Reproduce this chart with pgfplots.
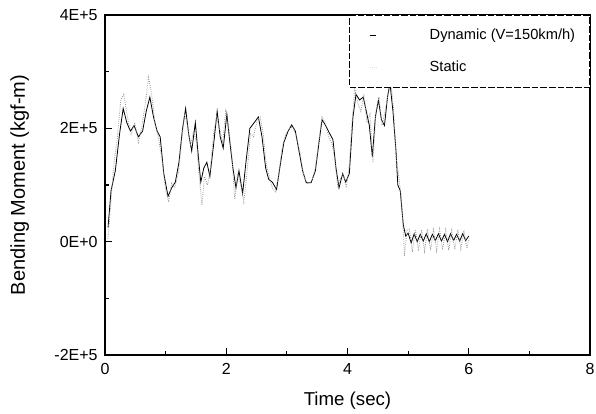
\documentclass[border=0pt]{standalone}
\usepackage{pgfplots}
\pgfplotsset{compat=1.18}
\usepackage{fontspec}
\setmainfont{Liberation Sans}
\definecolor{statgray}{RGB}{150,150,150}

\begin{document}
\begin{tikzpicture}
\begin{axis}[
  name=ax, scale only axis,
  width=363.75pt, height=255pt,
  xmin=0, xmax=8, ymin=-2, ymax=4,
  xtick={0,2,4,6,8}, xticklabels={0,2,4,6,8},
  minor xtick={1,3,5,7},
  ytick={-2,0,2,4}, yticklabels={-2E+5,0E+0,2E+5,4E+5},
  minor ytick={-1,1,3},
  tick align=inside, tick pos=left,
  major tick length=5pt, minor tick length=3pt,
  every tick/.style={black, line width=0.8pt},
  axis line style={line width=0.9pt},
  ticklabel style={font=\fontsize{12}{14}\selectfont},
  xticklabel style={yshift=-3pt},
  yticklabel style={xshift=-2pt},
  every axis x label/.style={at={(axis description cs:0.5,-0.135)}, anchor=center,
    font=\fontsize{14}{16}\selectfont},
  every axis y label/.style={at={(axis description cs:-0.176,0.5)}, anchor=center,
    rotate=90, font=\fontsize{15}{17}\selectfont},
  xlabel={Time (sec)},
  ylabel={Bending Moment (kgf-m)},
  legend style={at={(rel axis cs:1,1)}, anchor=north east,
    draw=black, dash pattern=on 5pt off 1.5pt, line width=0.5pt,
    fill=white, inner xsep=6pt, inner ysep=8pt, row sep=11pt,
    font=\fontsize{11}{13}\selectfont},
  legend cell align=left,
]
% Dynamic, values in units of 1E+5 kgf-m
\addplot[black, line width=0.6pt, solid,
  legend image code/.code={\path[draw=none] (0pt,0pt) -- (52pt,0pt);
    \draw[black, solid, line width=0.6pt] (9pt,0pt) -- (14pt,0pt);}]
  coordinates {
  (0.05,0.25) (0.10,0.90) (0.17,1.25) (0.24,1.90) (0.30,2.35) (0.36,2.10)
  (0.42,1.95) (0.48,2.05) (0.55,1.85) (0.62,1.95) (0.68,2.30) (0.74,2.55)
  (0.80,2.20) (0.86,1.95) (0.91,1.85) (0.97,1.20) (1.04,0.80) (1.10,0.95)
  (1.16,1.05) (1.22,1.40) (1.28,2.00) (1.33,2.35) (1.38,1.90) (1.43,1.60)
  (1.49,2.10) (1.54,1.50) (1.58,1.05) (1.63,1.30) (1.68,1.40) (1.73,1.15)
  (1.79,1.70) (1.85,2.30) (1.90,1.85) (1.95,1.65) (2.01,2.25) (2.06,1.75)
  (2.11,1.30) (2.16,0.95) (2.21,1.25) (2.27,0.85) (2.33,1.45) (2.39,2.00)
  (2.46,2.10) (2.53,2.20) (2.59,1.85) (2.65,1.30) (2.70,1.10) (2.76,1.05)
  (2.83,0.92) (2.89,1.35) (2.95,1.75) (3.02,1.95) (3.08,2.06) (3.14,1.95)
  (3.20,1.60) (3.26,1.25) (3.32,1.04) (3.40,1.04) (3.47,1.25) (3.53,1.75)
  (3.58,2.15) (3.64,2.05) (3.70,1.92) (3.76,1.80) (3.81,1.30) (3.86,0.95)
  (3.92,1.20) (3.97,1.05) (4.03,1.20) (4.09,2.20) (4.14,2.60) (4.20,2.50)
  (4.26,2.55) (4.31,2.30) (4.36,2.05) (4.41,1.50) (4.46,2.20) (4.51,2.50)
  (4.56,2.15) (4.61,2.05) (4.66,2.55) (4.70,2.80) (4.75,2.30) (4.80,1.60)
  (4.83,1.00) (4.87,0.90) (4.92,0.30) (4.96,0.10) (5.00,0.15) (5.05,-0.02)
  (5.10,0.14) (5.15,0.00) (5.20,0.13) (5.25,0.01) (5.30,0.14) (5.35,0.00)
  (5.40,0.13) (5.45,0.02) (5.50,0.14) (5.55,0.01) (5.60,0.13) (5.65,0.00)
  (5.70,0.14) (5.75,0.02) (5.80,0.13) (5.85,0.01) (5.90,0.14) (5.95,0.02)
  (6.00,0.10)
};
\addlegendentry{\makebox[112pt][l]{Dynamic (V=150km/h)}}
% Static
\addplot[statgray, densely dotted, line width=0.6pt,
  legend image code/.code={\path[draw=none] (0pt,0pt) -- (52pt,0pt);
    \draw[statgray!30, densely dotted, line width=0.5pt] (9pt,0pt) -- (14pt,0pt);}]
  coordinates {
  (0.05,0.05) (0.09,0.60) (0.14,1.30) (0.20,1.80) (0.26,2.50) (0.31,2.60)
  (0.37,2.20) (0.43,1.90) (0.49,2.10) (0.55,1.75) (0.61,2.05) (0.66,2.40)
  (0.72,2.90) (0.77,2.60) (0.83,2.05) (0.88,1.85) (0.94,1.45) (1.00,0.90)
  (1.05,0.70) (1.10,1.05) (1.15,0.95) (1.21,1.20) (1.26,1.75) (1.31,2.25)
  (1.36,2.05) (1.41,1.70) (1.46,1.95) (1.51,1.75) (1.55,1.20) (1.60,0.65)
  (1.64,1.15) (1.69,1.00) (1.74,1.30) (1.79,1.90) (1.84,2.20) (1.89,2.00)
  (1.94,1.75) (1.99,2.30) (2.04,2.00) (2.09,1.55) (2.14,0.75) (2.19,1.20)
  (2.24,1.00) (2.29,0.70) (2.34,1.20) (2.40,1.90) (2.45,1.85) (2.51,2.15)
  (2.56,2.20) (2.61,1.90) (2.66,1.35) (2.71,1.15) (2.76,0.95) (2.81,0.88)
  (2.87,1.20) (2.92,1.65) (2.98,1.90) (3.04,2.00) (3.10,2.02) (3.16,1.85)
  (3.22,1.55) (3.28,1.15) (3.34,1.02) (3.41,1.06) (3.47,1.30) (3.53,1.80)
  (3.58,2.20) (3.63,2.10) (3.69,1.85) (3.74,1.75) (3.79,1.45) (3.84,0.95)
  (3.88,1.10) (3.93,1.20) (3.98,0.95) (4.03,1.35) (4.07,2.05) (4.12,2.70)
  (4.17,2.45) (4.22,2.30) (4.27,2.60) (4.32,2.10) (4.37,2.25) (4.42,1.40)
  (4.47,2.30) (4.52,2.55) (4.57,2.05) (4.62,2.30) (4.67,2.60) (4.71,2.85)
  (4.76,2.35) (4.80,1.50) (4.84,1.20) (4.88,0.85) (4.91,0.40) (4.94,-0.25)
  (4.98,0.20) (5.02,0.22) (5.07,-0.18) (5.12,0.22) (5.17,-0.16) (5.22,0.21)
  (5.27,-0.17) (5.32,0.22) (5.37,-0.15) (5.42,0.21) (5.47,-0.16) (5.52,0.22)
  (5.57,-0.14) (5.62,0.21) (5.67,-0.15) (5.72,0.20) (5.77,-0.14) (5.82,0.21)
  (5.87,-0.13) (5.92,0.20) (5.97,-0.12) (6.00,0.05)
};
\addlegendentry{\makebox[112pt][l]{Static}}
\end{axis}
\pgfresetboundingbox
\path[use as bounding box] ([shift={(-78.75pt,-44.25pt)}]ax.south west)
  rectangle ([shift={(4.5pt,11.25pt)}]ax.north east);
\end{tikzpicture}
\end{document}
